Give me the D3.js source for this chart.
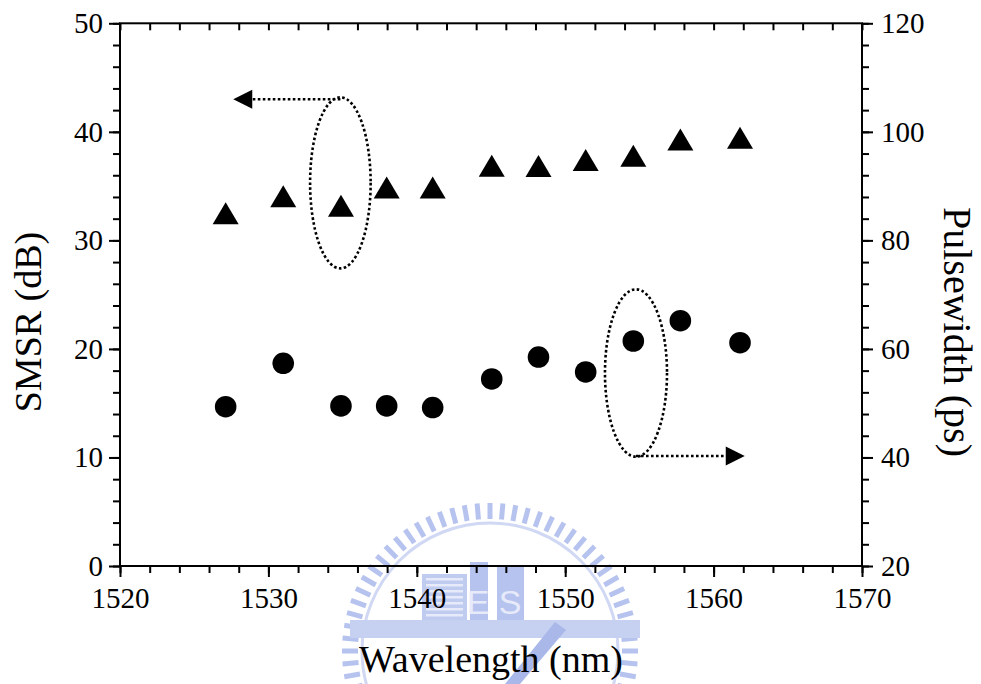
<!DOCTYPE html>
<html>
<head>
<meta charset="utf-8">
<script src="https://cdn.jsdelivr.net/npm/d3@7"></script>
</head>
<body style="margin:0">
<svg id="chart" width="981" height="684" style="font-family: 'Liberation Serif', serif; display:block; background:#fff"></svg>
<script>
// ---------- data ----------
const wavelengths = [1527.12, 1531.0, 1534.89, 1537.97, 1541.07, 1545.05, 1548.2, 1551.38, 1554.59, 1557.76, 1561.78];
const smsr       = [32.5, 34.06, 33.18, 34.87, 34.87, 36.87, 36.85, 37.4, 37.8, 39.3, 39.45];
const pulsewidth = [49.35, 57.35, 49.5, 49.5, 49.2, 54.46, 58.5, 55.75, 61.46, 65.2, 61.15];

const xTicks      = [1520, 1530, 1540, 1550, 1560, 1570];
const leftTicks   = [0, 10, 20, 30, 40, 50];
const rightTicks  = [20, 40, 60, 80, 100, 120];

const xTitle     = "Wavelength (nm)";
const leftTitle  = "SMSR (dB)";
const rightTitle = "Pulsewidth (ps)";

// annotation ellipses (data units) and arrows
const leftEllipse  = {cx: 1534.85, cy: 35.3, rx: 2.04, ry: 7.88};   // SMSR axis
const leftArrow    = {x1: 1534.85, x2: 1527.63, y: 43.0};
const rightEllipse = {cx: 1554.77, cy: 55.56, rx: 2.09, ry: 15.42}; // pulsewidth axis
const rightArrow   = {x1: 1554.77, x2: 1562.1, y: 40.27};

// ---------- layout ----------
const FONT = "Liberation Serif";
const svg = d3.select("#chart");
const L = 120, R = 862, T = 23.3, B = 566;

const x  = d3.scaleLinear().domain([1520, 1570]).range([L, R]);
const yL = d3.scaleLinear().domain([0, 50]).range([B, T]);
const yR = d3.scaleLinear().domain([20, 120]).range([B, T]);

const fontTick = 29, fontTitle = 38;
const axisW = 2;

const xMinor = d3.range(1520, 1570.001, 2);
const lMinor = d3.range(0, 50.001, 2);
const rMinor = d3.range(20, 120.001, 4);

// ---------- faint background watermark (emblem) ----------
{
  const wm = svg.append("g").attr("fill", "#b6c3ee").attr("stroke", "none");
  const cx = 490, cy = 651, rOut = 148, rIn = 128;
  d3.range(-200, 21, 5).forEach(a => {
    wm.append("rect").attr("x", -2.5).attr("y", -rOut).attr("width", 5).attr("height", 16)
      .attr("transform", `translate(${cx},${cy}) rotate(${a + 90})`);
  });
  wm.append("circle").attr("cx", cx).attr("cy", cy).attr("r", rIn)
    .attr("fill", "none").attr("stroke", "#d0d8f4").attr("stroke-width", 3);
  wm.append("rect").attr("x", 422).attr("y", 574).attr("width", 45).attr("height", 46).attr("fill", "#c0cbf0");
  d3.range(578, 620, 6).forEach(yy => wm.append("rect").attr("x", 426).attr("y", yy).attr("width", 37).attr("height", 2.5).attr("fill", "#e6eaf9"));
  wm.append("rect").attr("x", 470).attr("y", 562).attr("width", 18).attr("height", 58);
  wm.append("rect").attr("x", 497).attr("y", 565).attr("width", 27).attr("height", 55);
  wm.append("text").attr("x", 478).attr("y", 614).attr("text-anchor", "middle").attr("fill", "#e6eaf9")
    .style("font-family", "Liberation Sans").style("font-size", "34px").text("E");
  wm.append("text").attr("x", 510).attr("y", 614).attr("text-anchor", "middle").attr("fill", "#e6eaf9")
    .style("font-family", "Liberation Sans").style("font-size", "34px").text("S");
  wm.append("rect").attr("x", 350).attr("y", 620).attr("width", 290).attr("height", 18).attr("fill", "#c6d0f1");
  wm.append("path").attr("d", "M505,684L555,622L566,630L520,684Z").attr("fill", "#a9b8e8");
}

function styleAxis(g) {
  g.attr("font-family", null).attr("font-size", null);
  g.select(".domain").remove();
  g.selectAll(".tick line").attr("stroke", "#000").attr("stroke-width", axisW);
  g.selectAll(".tick text").attr("fill", "#000")
    .style("font-family", FONT).style("font-size", fontTick + "px");
}

svg.append("g").attr("transform", `translate(0,${B})`)
  .call(d3.axisBottom(x).tickValues(xMinor).tickSize(7).tickFormat(""))
  .call(styleAxis);
svg.append("g").attr("transform", `translate(0,${B})`)
  .call(d3.axisBottom(x).tickValues(xTicks).tickSize(11).tickPadding(10).tickFormat(d3.format("d")))
  .call(styleAxis);

svg.append("g").attr("transform", `translate(0,${T})`)
  .call(d3.axisBottom(x).tickValues(xMinor).tickSize(7).tickFormat(""))
  .call(styleAxis);

svg.append("g").attr("transform", `translate(${L},0)`)
  .call(d3.axisLeft(yL).tickValues(lMinor).tickSize(7).tickFormat(""))
  .call(styleAxis);
svg.append("g").attr("transform", `translate(${L},0)`)
  .call(d3.axisLeft(yL).tickValues(leftTicks).tickSize(11).tickPadding(6).tickFormat(d3.format("d")))
  .call(styleAxis);

svg.append("g").attr("transform", `translate(${R},0)`)
  .call(d3.axisRight(yR).tickValues(rMinor).tickSize(7).tickFormat(""))
  .call(styleAxis);
svg.append("g").attr("transform", `translate(${R},0)`)
  .call(d3.axisRight(yR).tickValues(rightTicks).tickSize(11).tickPadding(8).tickFormat(d3.format("d")))
  .call(styleAxis);

svg.append("rect").attr("x", L).attr("y", T).attr("width", R - L).attr("height", B - T)
  .attr("fill", "none").attr("stroke", "#000").attr("stroke-width", axisW);

// ---------- marks ----------
const triW = 26, triH = 22;
svg.append("g").selectAll("path").data(wavelengths).join("path")
  .attr("d", (d, i) => {
    const cx = x(d), cy = yL(smsr[i]);
    return `M${cx},${cy - triH / 2}L${cx + triW / 2},${cy + triH / 2}L${cx - triW / 2},${cy + triH / 2}Z`;
  })
  .attr("fill", "#000");

svg.append("g").selectAll("circle").data(wavelengths).join("circle")
  .attr("cx", d => x(d)).attr("cy", (d, i) => yR(pulsewidth[i])).attr("r", 10.8)
  .attr("fill", "#000");

// ---------- annotations ----------
const dot = {stroke: "#000", "stroke-width": 2.6, "stroke-dasharray": "2.6 2.4", fill: "none"};
function applyAttrs(sel, o) { Object.entries(o).forEach(([k, v]) => sel.attr(k, v)); return sel; }

applyAttrs(svg.append("ellipse")
  .attr("cx", x(leftEllipse.cx)).attr("cy", yL(leftEllipse.cy))
  .attr("rx", x(leftEllipse.cx + leftEllipse.rx) - x(leftEllipse.cx))
  .attr("ry", yL(leftEllipse.cy - leftEllipse.ry) - yL(leftEllipse.cy)), dot);
applyAttrs(svg.append("line")
  .attr("x1", x(leftArrow.x1)).attr("x2", x(leftArrow.x2) + 18)
  .attr("y1", yL(leftArrow.y)).attr("y2", yL(leftArrow.y)), dot);
{
  const tx = x(leftArrow.x2), ty = yL(leftArrow.y);
  svg.append("path").attr("d", `M${tx},${ty}L${tx + 19},${ty - 9.5}L${tx + 19},${ty + 9.5}Z`).attr("fill", "#000");
}

applyAttrs(svg.append("ellipse")
  .attr("cx", x(rightEllipse.cx)).attr("cy", yR(rightEllipse.cy))
  .attr("rx", x(rightEllipse.cx + rightEllipse.rx) - x(rightEllipse.cx))
  .attr("ry", yR(rightEllipse.cy - rightEllipse.ry) - yR(rightEllipse.cy)), dot);
applyAttrs(svg.append("line")
  .attr("x1", x(rightArrow.x1)).attr("x2", x(rightArrow.x2) - 18)
  .attr("y1", yR(rightArrow.y)).attr("y2", yR(rightArrow.y)), dot);
{
  const tx = x(rightArrow.x2), ty = yR(rightArrow.y);
  svg.append("path").attr("d", `M${tx},${ty}L${tx - 19},${ty - 9.5}L${tx - 19},${ty + 9.5}Z`).attr("fill", "#000");
}

// ---------- titles ----------
svg.append("text").attr("x", (L + R) / 2).attr("y", 672).attr("text-anchor", "middle")
  .style("font-family", FONT).style("font-size", fontTitle + "px").text(xTitle);

svg.append("text").attr("transform", `translate(41,322) rotate(-90)`).attr("text-anchor", "middle")
  .style("font-family", FONT).style("font-size", fontTitle + "px").text(leftTitle);

svg.append("text").attr("transform", `translate(944,332) rotate(90)`).attr("text-anchor", "middle")
  .style("font-family", FONT).style("font-size", "40px").text(rightTitle);
</script>
</body>
</html>
